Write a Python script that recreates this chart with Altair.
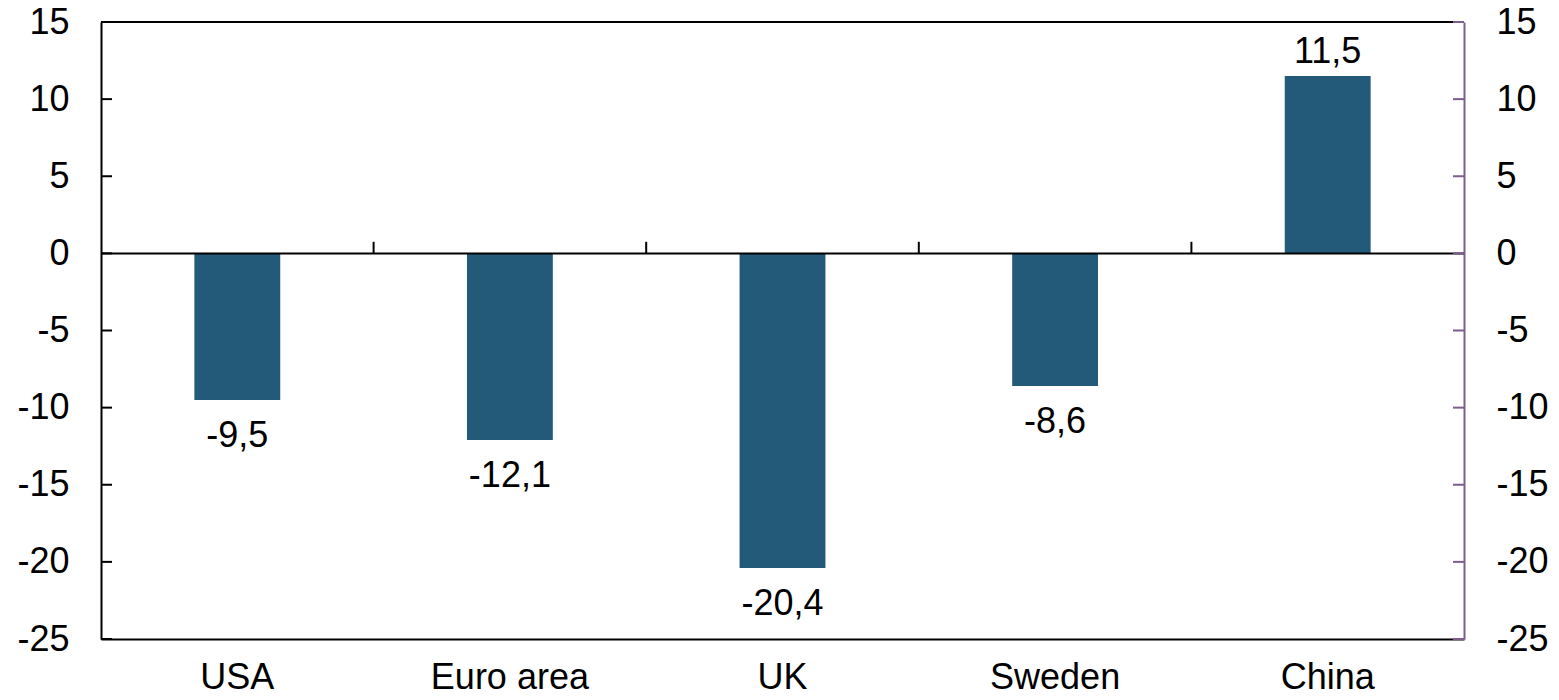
import altair as alt
import pandas as pd

categories = ["USA", "Euro area", "UK", "Sweden", "China"]
values = [-9.5, -12.1, -20.4, -8.6, 11.5]
y_ticks = [-25, -20, -15, -10, -5, 0, 5, 10, 15]
boundary_cats = ["Euro area", "UK", "Sweden", "China"]

BAR = "#235a7a"
PURPLE = "#7e5c8e"
FONT = "Liberation Sans"
FS = 36
W, H = 1363, 617
P_IN = 0.685
P_OUT = P_IN / 2
STEP = W / len(categories)

df = pd.DataFrame({"cat": categories, "val": values})
df["lab"] = [f"{v:.1f}".replace(".", ",") for v in values]
ticks_df = pd.DataFrame({"t": y_ticks})
zero_df = pd.DataFrame({"z": [0]})
top_df = pd.DataFrame({"z": [15]})
bnd_df = pd.DataFrame({"cat": boundary_cats, "y0": [0] * 4, "y1": [0.75] * 4})

yscale = alt.Scale(domain=[-25, 15], nice=False, zero=False)
xscale = alt.Scale(domain=categories, paddingInner=P_IN, paddingOuter=P_OUT)

bars = alt.Chart(df).mark_bar(color=BAR).encode(
    x=alt.X("cat:N", sort=categories, scale=xscale, title=None,
            axis=alt.Axis(orient="bottom", ticks=False, labelAngle=0, labelPadding=21,
                          labelFontSize=FS, labelFont=FONT, labelColor="black",
                          domainColor="black", domainWidth=2, grid=False)),
    y=alt.Y("val:Q", scale=yscale, title=None,
            axis=alt.Axis(orient="left", values=y_ticks, ticks=False, grid=False,
                          labelPadding=32, labelFontSize=FS, labelFont=FONT,
                          labelColor="black", domainColor="black", domainWidth=2,
                          labelExpr="'' + datum.value")),
)

txt_neg = alt.Chart(df).transform_filter("datum.val < 0").mark_text(
    baseline="alphabetic", dy=47, fontSize=FS, font=FONT, color="black"
).encode(
    x=alt.X("cat:N", sort=categories, scale=xscale),
    y=alt.Y("val:Q", scale=yscale, axis=None),
    text="lab:N",
)
txt_pos = alt.Chart(df).transform_filter("datum.val >= 0").mark_text(
    baseline="alphabetic", dy=-13, fontSize=FS, font=FONT, color="black"
).encode(
    x=alt.X("cat:N", sort=categories, scale=xscale),
    y=alt.Y("val:Q", scale=yscale, axis=None),
    text="lab:N",
)

zero_line = alt.Chart(zero_df).mark_rule(color="black", strokeWidth=2).encode(
    y=alt.Y("z:Q", scale=yscale, axis=None)
)
top_line = alt.Chart(top_df).mark_rule(color="black", strokeWidth=2).encode(
    y=alt.Y("z:Q", scale=yscale, axis=None)
)

left_ticks = alt.Chart(ticks_df).mark_rule(color="black", strokeWidth=2).encode(
    y=alt.Y("t:Q", scale=yscale, axis=None),
    x=alt.value(0), x2=alt.value(11),
)
right_ticks = alt.Chart(ticks_df).mark_rule(color=PURPLE, strokeWidth=2).encode(
    y=alt.Y("t:Q", scale=yscale, title=None,
            axis=alt.Axis(orient="right", values=y_ticks, ticks=False, grid=False,
                          labelPadding=32, labelFontSize=FS, labelFont=FONT,
                          labelColor="black", domainColor=PURPLE, domainWidth=2,
                          labelExpr="'' + datum.value")),
    x=alt.value(W - 11), x2=alt.value(W),
)

bnd = alt.Chart(bnd_df).mark_rule(color="black", strokeWidth=2, xOffset=-STEP / 2).encode(
    x=alt.X("cat:N", sort=categories, scale=xscale),
    y=alt.Y("y0:Q", scale=yscale, axis=None),
    y2="y1:Q",
)

chart = alt.layer(
    bars, txt_neg, txt_pos, zero_line, top_line, left_ticks, right_ticks, bnd
).resolve_axis(y="independent").properties(
    width=W, height=H,
    autosize=alt.AutoSizeParams(type="none"),
    padding={"left": 93, "top": 14, "right": 87, "bottom": 53},
).configure_view(stroke=None)

chart.save("out.html", embed_options={"renderer": "svg", "actions": False})
